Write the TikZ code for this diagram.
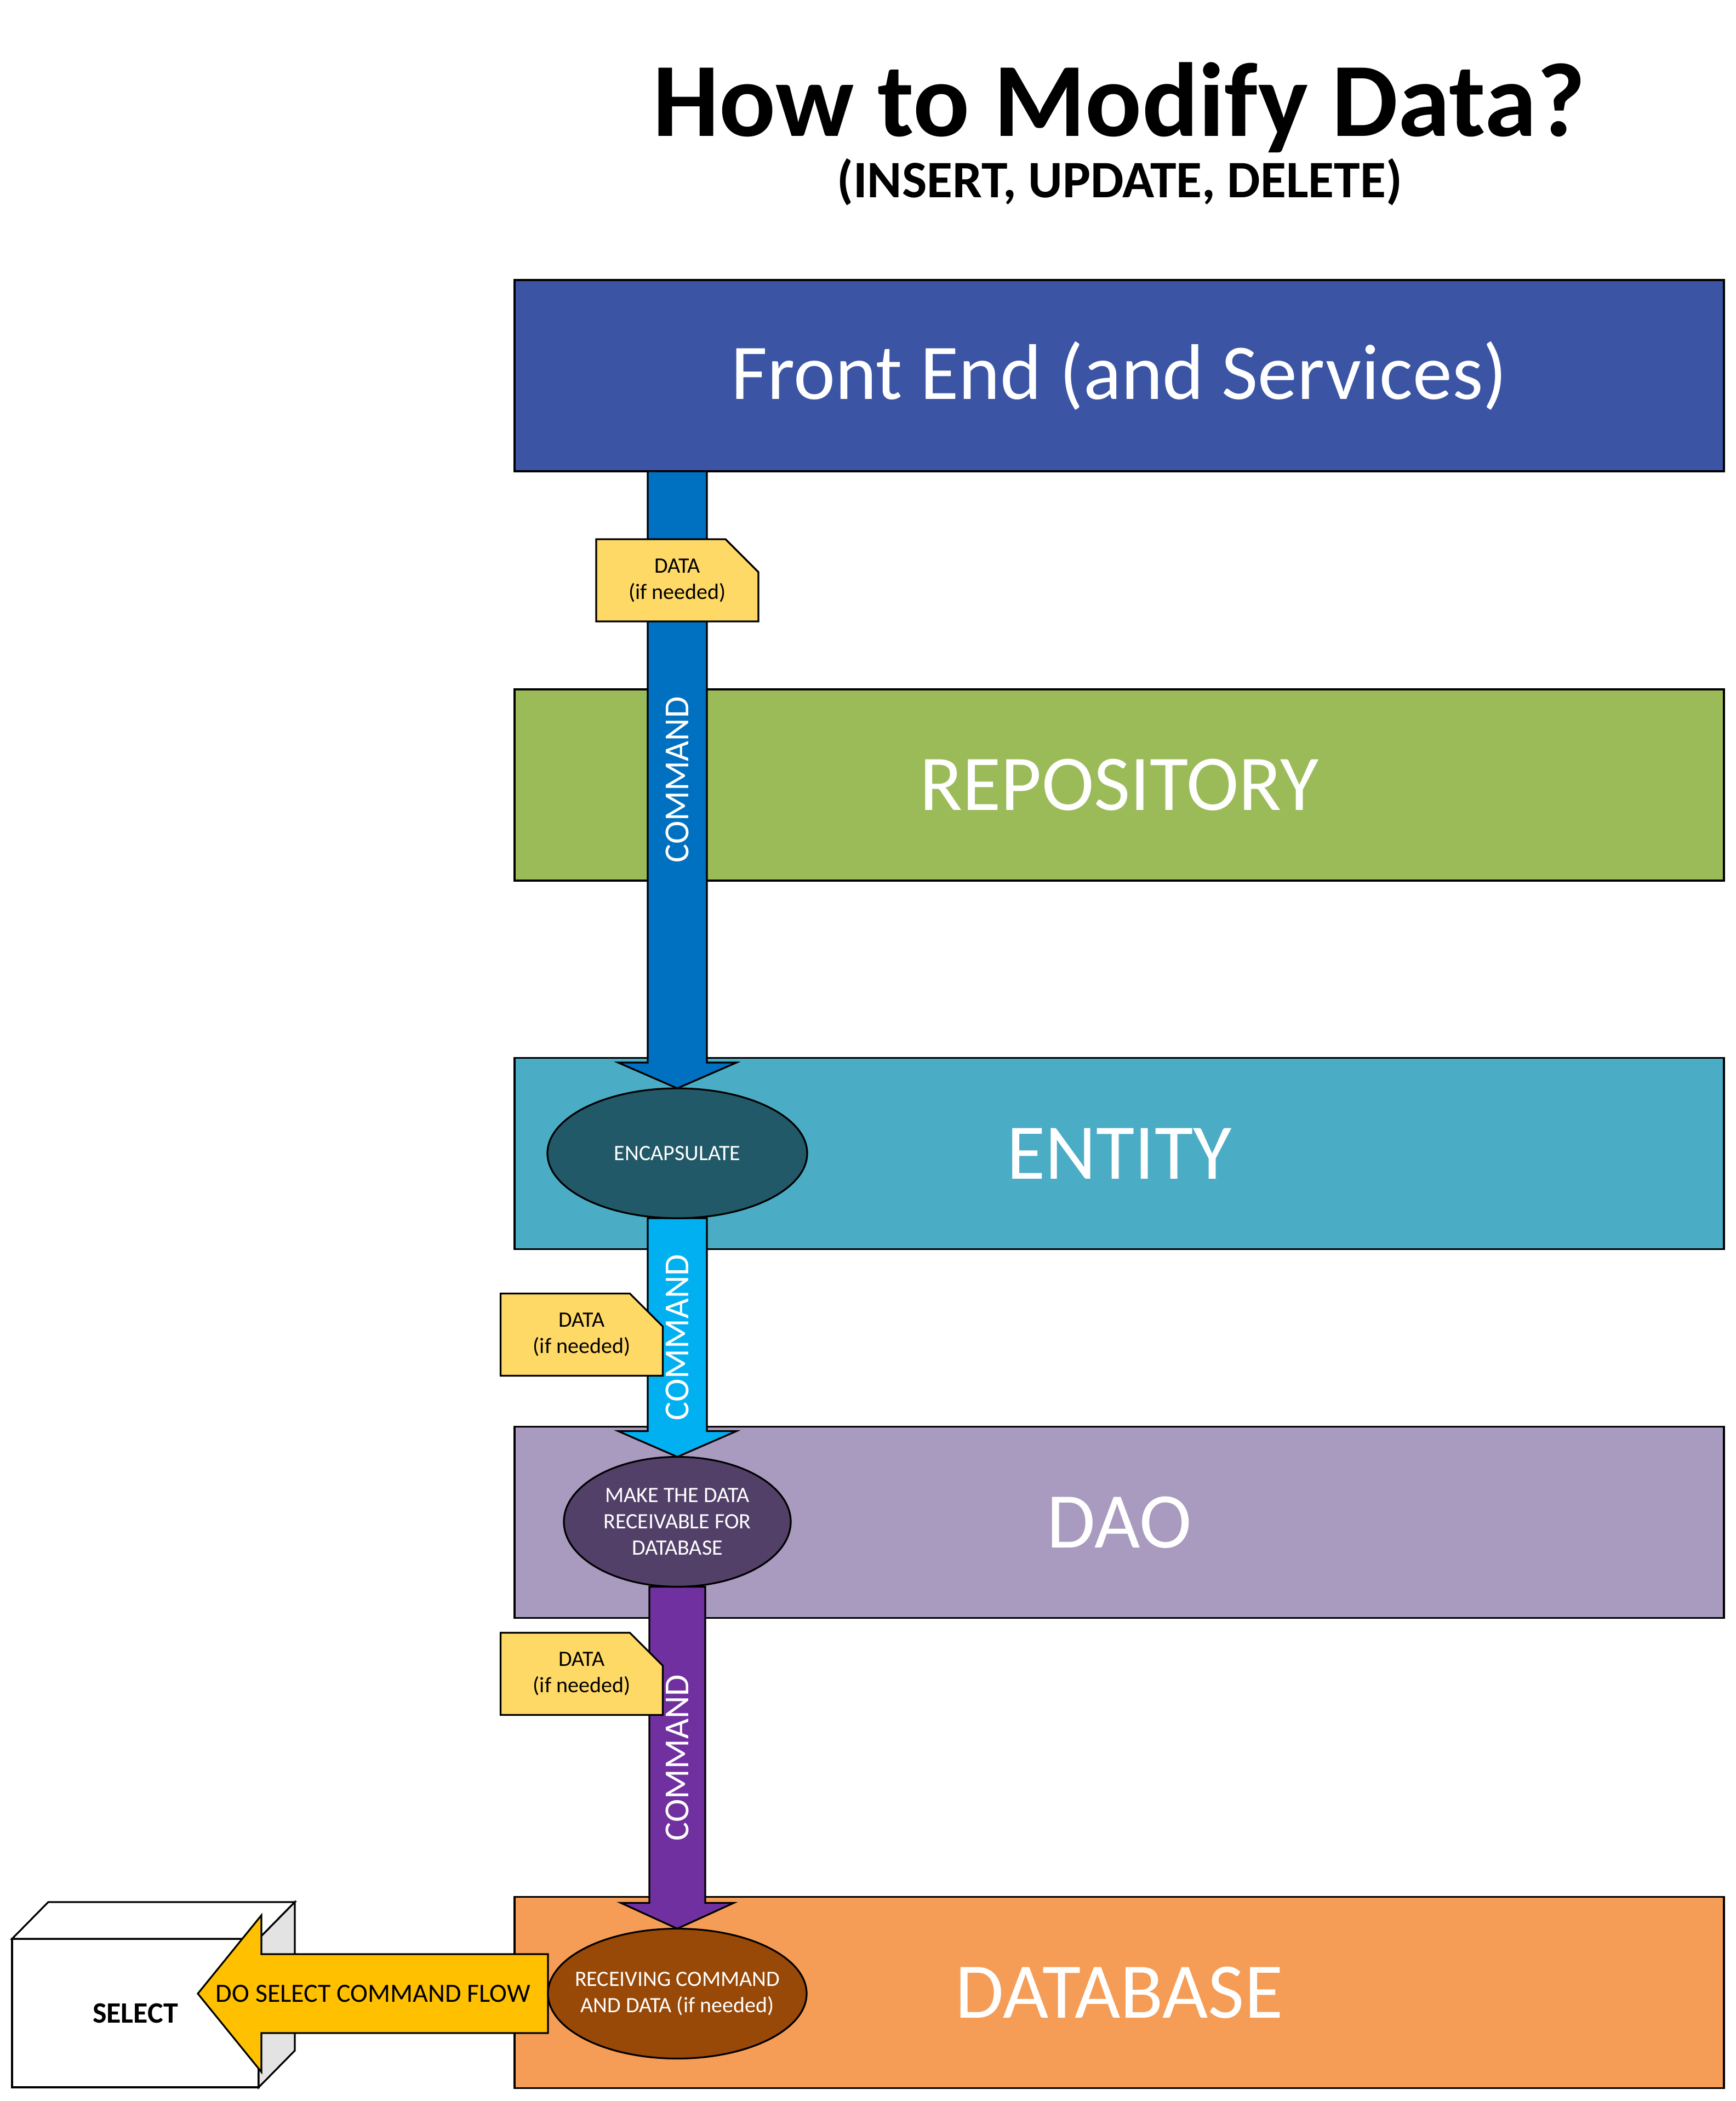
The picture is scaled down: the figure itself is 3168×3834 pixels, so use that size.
\documentclass[tikz,border=0pt]{standalone}
\usepackage{fontspec}
\setmainfont{Carlito}
\usetikzlibrary{calc,shapes.geometric,shapes.misc}
\pgfdeclarelayer{back}
\pgfdeclarelayer{mid}
\pgfsetlayers{back,mid,main}
\definecolor{feblue}{HTML}{3B55A4}
\definecolor{repgreen}{HTML}{9BBB59}
\definecolor{entblue}{HTML}{4BACC6}
\definecolor{daopurple}{HTML}{A89BBF}
\definecolor{dborange}{HTML}{F59D56}
\definecolor{enccol}{HTML}{215968}
\definecolor{mkcol}{HTML}{524069}
\definecolor{rcvcol}{HTML}{984807}
\definecolor{arrone}{HTML}{0070C0}
\definecolor{arrtwo}{HTML}{00B0F0}
\definecolor{arrthree}{HTML}{7030A0}
\definecolor{yel}{HTML}{FFC000}
\definecolor{notey}{HTML}{FFD966}
\definecolor{cubegray}{HTML}{E3E3E3}
\begin{document}
\begin{tikzpicture}[x=0.25pt,y=-0.25pt,
  layerbox/.style={draw=black, line width=0.8pt, minimum width=551.75pt, minimum height=87.25pt,
    inner sep=0pt, outer sep=0pt, text=white, font=\fontsize{36}{43}\selectfont},
  ell/.style={ellipse, draw=black, line width=0.8pt, inner sep=0pt, outer sep=0pt, minimum height=59.25pt},
  elltxt/.style={text=white, font=\fontsize{10}{12}\selectfont, align=center},
  notebox/.style={chamfered rectangle, chamfered rectangle corners=north east,
    chamfered rectangle xsep=7.5pt, chamfered rectangle ysep=7.5pt,
    draw=black, fill=notey, line width=0.8pt, minimum width=74pt, minimum height=37.5pt,
    inner sep=0pt, align=center, font=\fontsize{10}{12}\selectfont},
  blockarrow/.style={draw=black, line width=0.8pt, line join=miter},
  cmd/.style={text=white, font=\fontsize{16}{19}\selectfont, rotate=90}
]
\useasboundingbox (0,0) rectangle (3168,3834);
\begin{pgfonlayer}{back}
\fill[white] (0,0) rectangle (3168,3834);
\node[layerbox, fill=feblue] (fe) at (2042.5,685.5) {Front End (and Services)};
\node[layerbox, fill=repgreen] (rep) at (2042.5,1432.5) {REPOSITORY};
\node[layerbox, fill=entblue] (ent) at (2042.5,2105) {ENTITY};
\node[layerbox, fill=daopurple] (dao) at (2042.5,2778) {DAO};
\node[layerbox, fill=dborange] (db) at (2042.5,3636) {DATABASE};
% cube
\node[draw=black, line width=0.8pt, fill=white, minimum width=112.5pt, minimum height=67.75pt,
  inner sep=0pt, outer sep=0pt, font=\fontsize{13.5}{16}\selectfont\bfseries] (sel) at (247,3673.5) {SELECT};
\draw[line width=0.8pt, fill=white, line join=miter] (sel.north west) -- ++(66,-67) -- ($(sel.north east)+(66,-67)$) -- (sel.north east) -- cycle;
\draw[line width=0.8pt, fill=cubegray, line join=miter] (sel.north east) -- ++(66,-67) -- ($(sel.south east)+(66,-67)$) -- (sel.south east) -- cycle;
\end{pgfonlayer}

% title
\node[font=\fontsize{48}{58}\selectfont\bfseries, anchor=base] (title) at (2042,248) {How to Modify Data?};
\node[font=\fontsize{24}{29}\selectfont\bfseries, anchor=base] (sub) at (2043,360) {(INSERT, UPDATE, DELETE)};

% ellipses
\node[ell, fill=enccol, minimum width=118.5pt, label={[elltxt]center:ENCAPSULATE}] (enc) at (1236,2104.5) {};
\node[ell, fill=mkcol, minimum width=103.5pt, label={[elltxt]center:MAKE THE DATA\\RECEIVABLE FOR\\DATABASE}] (mk) at (1236,2777) {};
\node[ell, fill=rcvcol, minimum width=118pt, label={[elltxt]center:RECEIVING COMMAND\\AND DATA (if needed)}] (rcv) at (1236,3638) {};

\coordinate (a1) at (enc.north |- fe.south);
\coordinate (seltip) at (361,3638);

\begin{pgfonlayer}{mid}
% arrow 1
\draw[blockarrow, fill=arrone] ($(a1)+(-54,0)$) -- ($(enc.north)+(-54,-47)$) -- ($(enc.north)+(-108,-47)$) -- (enc.north)
  -- ($(enc.north)+(108,-47)$) -- ($(enc.north)+(54,-47)$) -- ($(a1)+(54,0)$) -- cycle;
\node[cmd] (c1) at ($(a1)!0.5!(enc.north)$) {COMMAND};
% arrow 2
\draw[blockarrow, fill=arrtwo] ($(enc.south)+(-54,0)$) -- ($(mk.north)+(-54,-47)$) -- ($(mk.north)+(-108,-47)$) -- (mk.north)
  -- ($(mk.north)+(108,-47)$) -- ($(mk.north)+(54,-47)$) -- ($(enc.south)+(54,0)$) -- cycle;
\node[cmd] (c2) at ($(enc.south)!0.5!(mk.north)$) {COMMAND};
% arrow 3
\draw[blockarrow, fill=arrthree] ($(mk.south)+(-51,0)$) -- ($(rcv.north)+(-51,-47)$) -- ($(rcv.north)+(-103,-47)$) -- (rcv.north)
  -- ($(rcv.north)+(103,-47)$) -- ($(rcv.north)+(51,-47)$) -- ($(mk.south)+(51,0)$) -- cycle;
\node[cmd] (c3) at ($(mk.south)!0.5!(rcv.north)$) {COMMAND};
% yellow arrow
\draw[blockarrow, fill=yel] ($(rcv.west)+(0,-72)$) -- ($(seltip)+(116,-72)$) -- ($(seltip)+(116,-143)$) -- (seltip)
  -- ($(seltip)+(116,143)$) -- ($(seltip)+(116,72)$) -- ($(rcv.west)+(0,72)$) -- cycle;
\node[font=\fontsize{12}{14}\selectfont] (flow) at (681,3638) {DO SELECT COMMAND FLOW};
\end{pgfonlayer}

% notes
\node[notebox] (d1) at (1236,1059) {DATA\\(if needed)};
\node[notebox] (d2) at (1061.5,2435.5) {DATA\\(if needed)};
\node[notebox] (d3) at (1061.5,3054.5) {DATA\\(if needed)};
\end{tikzpicture}
\end{document}
